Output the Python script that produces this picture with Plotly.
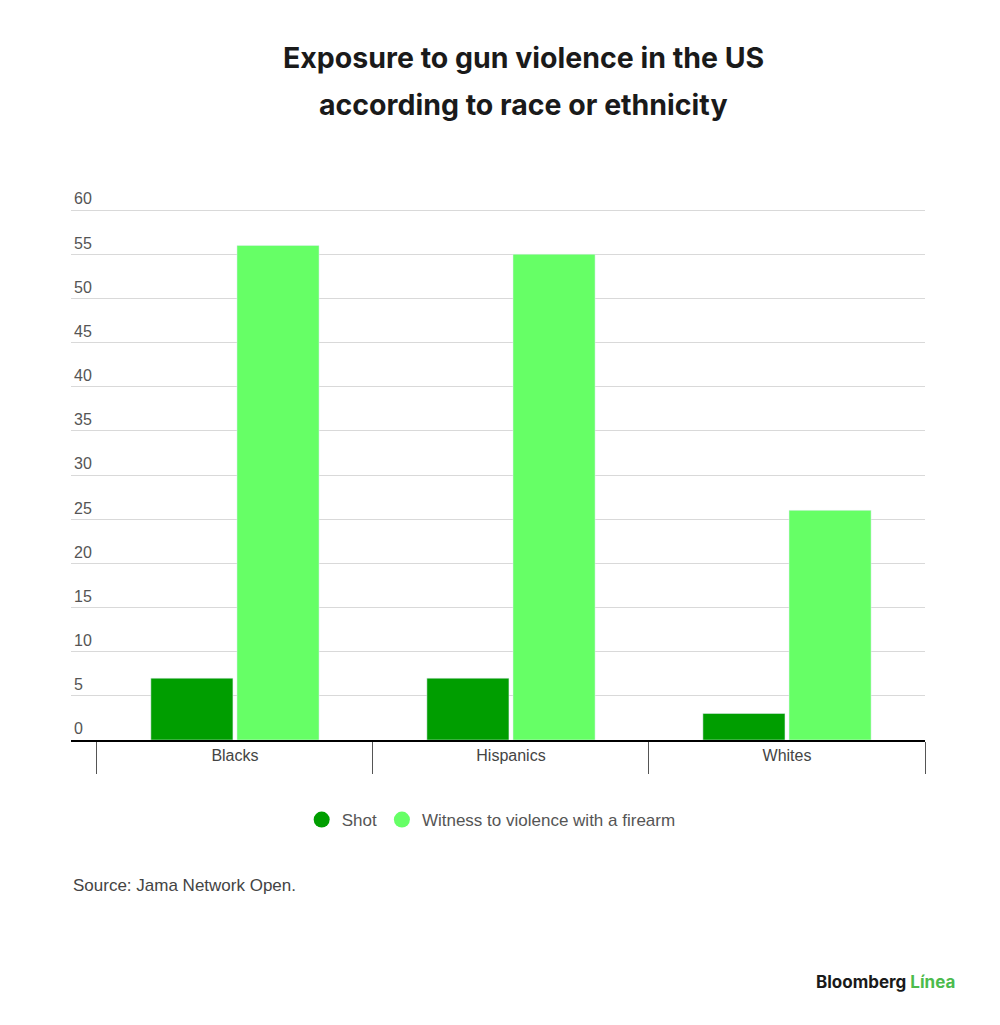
import plotly.graph_objects as go

# data
groups = ['Blacks', 'Hispanics', 'Whites']
shot = [7, 7, 3]
witness = [56, 55, 26]
y_ticks = [0, 5, 10, 15, 20, 25, 30, 35, 40, 45, 50, 55, 60]

dark_green = '#009e00'
light_green = '#66ff66'

fig = go.Figure()

fig.add_trace(go.Bar(x=groups, y=shot, name='Shot', marker_color=dark_green,
                     showlegend=False, hoverinfo='x+y'))
fig.add_trace(go.Bar(x=groups, y=witness, name='Witness to violence with a firearm',
                     marker_color=light_green, showlegend=False, hoverinfo='x+y'))

# round legend markers
fig.add_trace(go.Scatter(x=[None], y=[None], mode='markers', name='Shot',
                         marker=dict(color=dark_green, size=22, symbol='circle')))
fig.add_trace(go.Scatter(x=[None], y=[None], mode='markers',
                         name='Witness to violence with a firearm',
                         marker=dict(color=light_green, size=22, symbol='circle')))

# page has an 8px body margin, so the figure is 992 x 1017
fig.update_layout(
    width=992, height=1017,
    margin=dict(l=63, r=75, t=180, b=285),
    paper_bgcolor='white', plot_bgcolor='white',
    barmode='group', bargap=0.376, bargroupgap=0.047,
    font=dict(family='Liberation Sans', size=16, color='#555555'),
    legend=dict(orientation='h', x=0.492, xanchor='center', y=-0.1449, yanchor='middle',
                font=dict(size=17, color='#555555'), itemsizing='trace'),
)

fig.update_xaxes(
    range=[-0.594, 2.5], type='category',
    showline=True, linecolor='black', linewidth=2,
    ticks='outside', tickson='boundaries', ticklen=32, tickcolor='#555555', tickwidth=1,
    ticklabelstandoff=0,
    tickfont=dict(size=16, color='#444444'),
    showgrid=False,
)
fig.update_yaxes(
    range=[0, 62.5], tickvals=y_ticks,
    ticklabelposition='inside top',
    tickfont=dict(size=16, color='#555555'),
    showgrid=True, gridcolor='#d9d9d9', gridwidth=1,
    zeroline=False, showline=False, ticks='',
)

# paper coords: y=0 at axis (px 740 in the shot), 552 px per unit of paper
title_font = dict(family='Inter', size=28.5, color='#1a1a1a')
fig.add_annotation(text='<b>Exposure to gun violence in the US</b>', xref='paper', yref='paper',
                   x=0.5304, y=1.2373, xanchor='center', yanchor='middle',
                   showarrow=False, font=title_font)
fig.add_annotation(text='<b>according to race or ethnicity</b>', xref='paper', yref='paper',
                   x=0.5304, y=1.1504, xanchor='center', yanchor='middle',
                   showarrow=False, font=title_font)

fig.add_annotation(text='Source: Jama Network Open.', xref='paper', yref='paper',
                   x=0.0, y=-0.2627, xanchor='left', yanchor='middle',
                   showarrow=False, font=dict(size=17, color='#444444'))

fig.add_annotation(text="<b>Bloomberg <span style='color:#4cbb4c'>Línea</span></b>",
                   xref='paper', yref='paper', x=1.0375, y=-0.4384,
                   xanchor='right', yanchor='middle', showarrow=False,
                   font=dict(family='Inter', size=17, color='#1a1a1a'))

fig.write_html("out.html")
